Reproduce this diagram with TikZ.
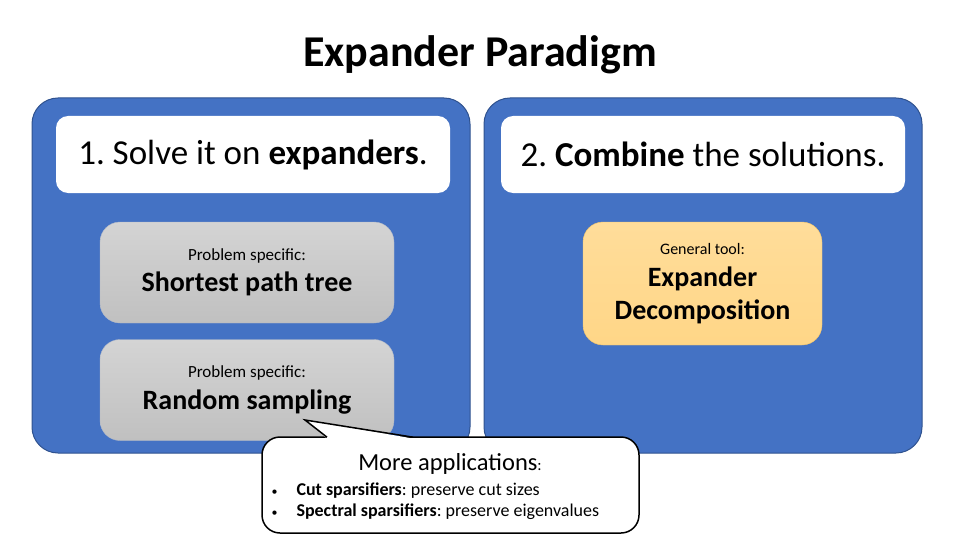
\documentclass[tikz,border=0pt]{standalone}
\usepackage{fontspec}
\setmainfont{Carlito}
\frenchspacing
\definecolor{panelblue}{HTML}{4472C4}
\definecolor{paneledge}{HTML}{2F528F}
\definecolor{graytop}{HTML}{D4D4D4}
\definecolor{graybot}{HTML}{C0C0C0}
\definecolor{grayedge}{HTML}{B0B8C8}
\definecolor{tooltop}{HTML}{FFDD9A}
\definecolor{toolbot}{HTML}{FFD687}
\definecolor{tooledge}{HTML}{F2C46A}

\begin{document}
\begin{tikzpicture}[x=1pt,y=-1pt,
    panel/.style={draw=paneledge, fill=panelblue, line width=1pt, rounded corners=26pt,
        minimum width=438pt, minimum height=355pt},
    headbox/.style={fill=white, rounded corners=12pt, minimum height=77pt,
        font=\fontsize{35}{40}\selectfont},
    probbox/.style={draw=grayedge, top color=graytop, bottom color=graybot, rounded corners=20pt,
        minimum width=294pt, minimum height=101pt, align=center},
    toolbox/.style={draw=tooledge, top color=tooltop, bottom color=toolbot, rounded corners=20pt,
        minimum width=239pt, minimum height=123pt, align=center},
    callout/.style={draw=black, fill=white, line width=1.5pt, rounded corners=18pt,
        minimum width=377pt, minimum height=96pt}
]
    \useasboundingbox (0,0) rectangle (960,540);

    % title
    \node[font=\fontsize{44}{50}\selectfont\bfseries] (title) at (480,55) {Expander Paradigm};

    % two blue panels
    \node[panel] (left) at (251,275.5) {};
    \node[panel] (right) at (703,275.5) {};

    % white headings
    \node[headbox, minimum width=394pt] (step1) at (253,154.5) {1. Solve it on \textbf{expanders}.};
    \node[headbox, minimum width=404pt] (step2) at (703,154.5) {2. \textbf{Combine} the solutions.};

    % problem specific boxes
    \node[probbox] (spt) at (247,272.5)
        {\fontsize{17}{20}\selectfont Problem specific:\\[8pt]
         \fontsize{28}{32}\selectfont\bfseries Shortest path tree};
    \node[probbox] (sampling) at (247,390)
        {\fontsize{17}{20}\selectfont Problem specific:\\[8pt]
         \fontsize{28}{32}\selectfont\bfseries Random sampling};

    % general tool
    \node[toolbox] (decomp) at (702.5,283.5)
        {\fontsize{16}{19}\selectfont General tool:\\[11pt]
         \fontsize{28}{33}\selectfont\bfseries Expander\\[8pt]
         \fontsize{28}{33}\selectfont\bfseries Decomposition};

    % callout with more applications
    \node[callout] (apps) at (450.5,485) {};
    \coordinate (tip) at (305,420);
    \fill[white] (327,438.5) -- (tip) -- (413,438.5) -- cycle;
    \draw[line width=1.5pt, line join=miter] (327,437.2) -- (tip) -- (413,437.2);
    \node[font=\fontsize{24.5}{28}\selectfont] (appshead) at (450,464) {More applications{\fontsize{16}{18}\selectfont:}};
    \node[anchor=west, font=\fontsize{18}{21}\selectfont] (appslist) at (268,502)
        {\begin{tabular}{@{}l@{\hspace{19pt}}l@{}}
         {\fontsize{12}{12}\selectfont\textbullet} & \textbf{Cut sparsifiers}: preserve cut sizes\\
         {\fontsize{12}{12}\selectfont\textbullet} & \textbf{Spectral sparsifiers}: preserve eigenvalues
         \end{tabular}};

\end{tikzpicture}
\end{document}
